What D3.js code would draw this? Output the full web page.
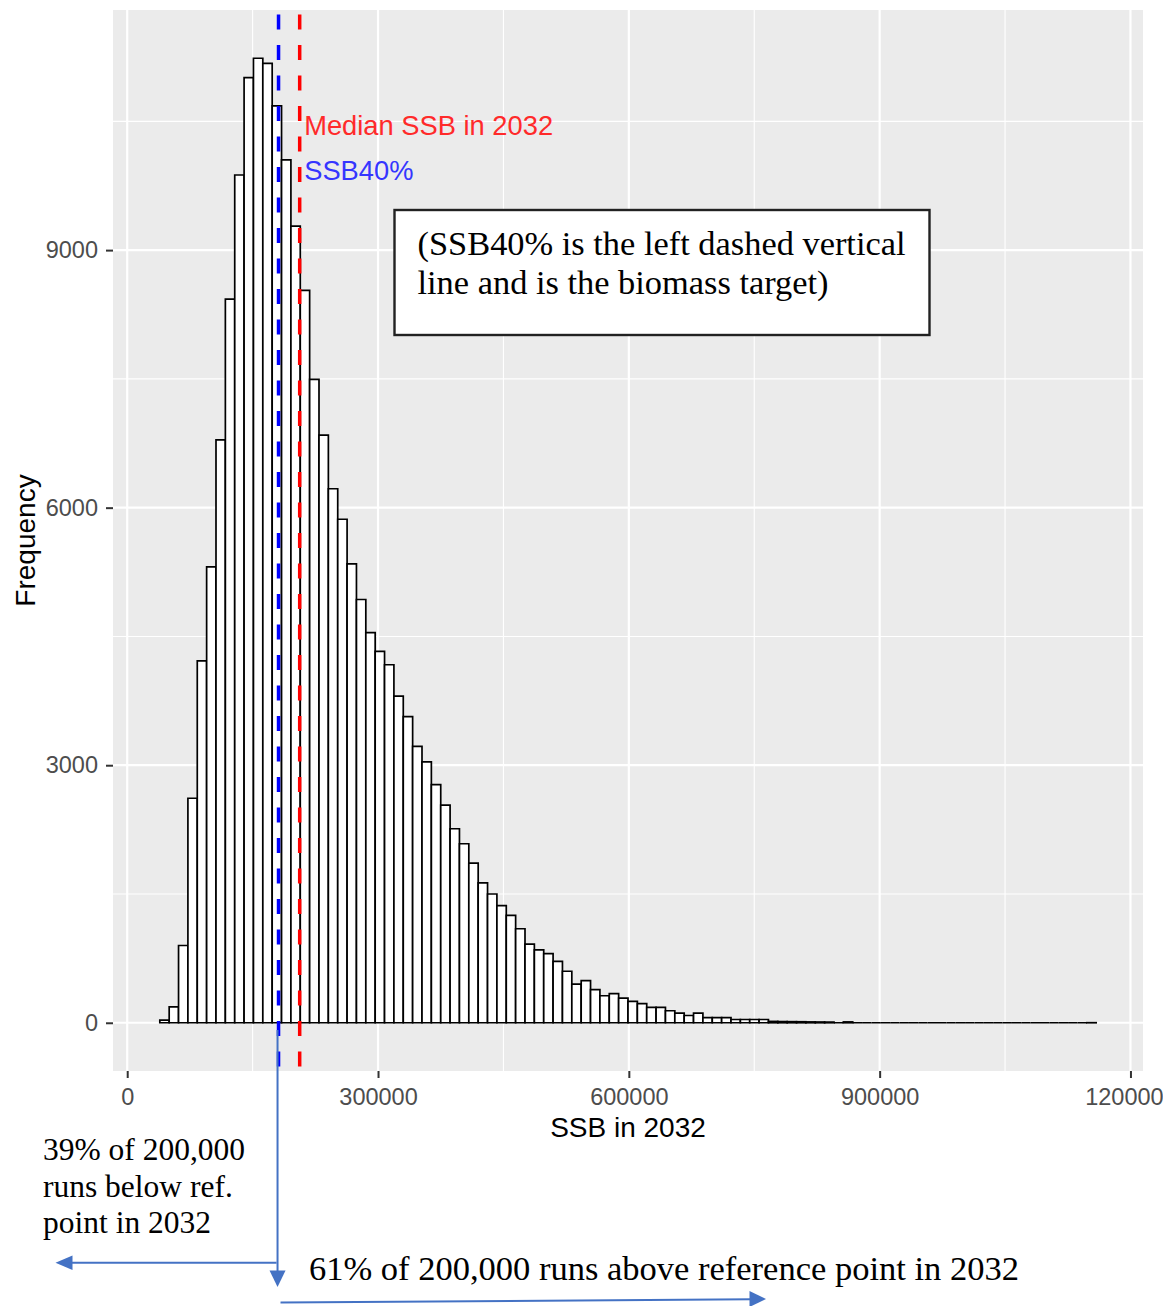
<!DOCTYPE html>
<html><head><meta charset="utf-8">
<script src="https://cdn.jsdelivr.net/npm/d3@7/dist/d3.min.js"></script>
<style>body{margin:0;background:#fff}</style>
</head><body>
<svg id="chart" width="1163" height="1306"></svg>
<script>
// ---- data ----
const binStart = 39000;     // left edge of first histogram bin (SSB units)
const binWidth = 11200;     // bin width (SSB units)
const counts = [
  30, 185, 900, 2615, 4215, 5310, 6790, 8430, 9875, 11010,
  11235, 11175, 10680, 10050, 9280, 8530, 7495, 6845, 6220, 5865,
  5345, 4930, 4545, 4325, 4170, 3805, 3565, 3220, 3040, 2775,
  2535, 2260, 2085, 1860, 1630, 1500, 1365, 1250, 1095, 915,
  850, 805, 715, 600, 450, 490, 385, 315, 340, 288,
  250, 222, 180, 180, 140, 113, 85, 113, 60, 60,
  60, 38, 38, 38, 38, 16, 14, 13, 12, 10,
  9, 8, 0, 10, 0, 0, 0, 0, 0, 0,
  0, 0, 0, 0, 0, 0, 0, 0, 0, 0,
  0, 0, 0, 0, 0, 0, 0, 0, 0, 1
];
const ssb40 = 181000;
const medianSSB = 206300;
const xTicks = [0, 300000, 600000, 900000, 1200000];
const xMinor = [150000, 450000, 750000, 1050000];
const yTicks = [0, 3000, 6000, 9000];
const yMinor = [1500, 4500, 7500, 10500];
const xTitle = "SSB in 2032";
const yTitle = "Frequency";
const medianLabel = "Median SSB in 2032";
const ssb40Label = "SSB40%";
const boxLines = ["(SSB40% is the left dashed vertical", "line and is the biomass target)"];
const belowLines = ["39% of 200,000", "runs below ref.", "point in 2032"];
const aboveText = "61% of 200,000 runs above reference point in 2032";

// ---- layout ----
const P = {left: 113, right: 1143, top: 10, bottom: 1071};
const sans = "'Liberation Sans', Arial, sans-serif";
const serif = "'Liberation Serif', 'Times New Roman', serif";
const arrowBlue = "#4472C4";

const bins = counts.map((n, i) => ({x0: binStart + i * binWidth, x1: binStart + (i + 1) * binWidth, n}));
const lo = binStart, hi = binStart + counts.length * binWidth;
const xpad = 0.05 * (hi - lo);
const x = d3.scaleLinear().domain([lo - xpad, hi + xpad]).range([P.left, P.right]);
const ymax = d3.max(counts);
const y = d3.scaleLinear().domain([-0.05 * ymax, 1.05 * ymax]).range([P.bottom, P.top]);

const svg = d3.select("#chart");

// panel
svg.append("rect").attr("x", P.left).attr("y", P.top)
  .attr("width", P.right - P.left).attr("height", P.bottom - P.top).attr("fill", "#EBEBEB");

const grid = svg.append("g");
grid.selectAll(".ymin").data(yMinor).join("line")
  .attr("x1", P.left).attr("x2", P.right).attr("y1", d => y(d)).attr("y2", d => y(d))
  .attr("stroke", "#fff").attr("stroke-width", 1.1);
grid.selectAll(".xmin").data(xMinor).join("line")
  .attr("y1", P.top).attr("y2", P.bottom).attr("x1", d => x(d)).attr("x2", d => x(d))
  .attr("stroke", "#fff").attr("stroke-width", 1.1);
grid.selectAll(".ymaj").data(yTicks).join("line")
  .attr("x1", P.left).attr("x2", P.right).attr("y1", d => y(d)).attr("y2", d => y(d))
  .attr("stroke", "#fff").attr("stroke-width", 2.2);
grid.selectAll(".xmaj").data(xTicks).join("line")
  .attr("y1", P.top).attr("y2", P.bottom).attr("x1", d => x(d)).attr("x2", d => x(d))
  .attr("stroke", "#fff").attr("stroke-width", 2.2);

// histogram bars (paths so zero-count bins still draw as a line)
svg.append("g").selectAll("path").data(bins).join("path")
  .attr("d", d => `M${x(d.x0)},${y(0)}V${y(d.n)}H${x(d.x1)}V${y(0)}Z`)
  .attr("fill", "#fff").attr("stroke", "#000").attr("stroke-width", 1.7);

// reference lines
const vlines = [{v: ssb40, c: "#0000FF"}, {v: medianSSB, c: "#FF0000"}];
svg.append("g").selectAll("line").data(vlines).join("line")
  .attr("x1", d => x(d.v)).attr("x2", d => x(d.v))
  .attr("y1", P.top).attr("y2", P.bottom)
  .attr("stroke", d => d.c).attr("stroke-width", 3.5)
  .attr("stroke-dasharray", "15,15.5").attr("stroke-dashoffset", 26);

svg.append("text").attr("x", x(medianSSB) + 4.5).attr("y", 134.5)
  .attr("font-family", sans).attr("font-size", 27.3).attr("fill", "#FF2A2A").text(medianLabel);
svg.append("text").attr("x", x(medianSSB) + 4.5).attr("y", 179.5)
  .attr("font-family", sans).attr("font-size", 27.3).attr("fill", "#3535FF").text(ssb40Label);

// axes
const yAxis = svg.append("g").attr("transform", `translate(${P.left},0)`)
  .call(d3.axisLeft(y).tickValues(yTicks).tickSize(7).tickPadding(8).tickFormat(d3.format("d")));
const xAxis = svg.append("g").attr("transform", `translate(0,${P.bottom})`)
  .call(d3.axisBottom(x).tickValues(xTicks).tickSize(7).tickPadding(10).tickFormat(d3.format("d")));
[yAxis, xAxis].forEach(g => {
  g.select(".domain").remove();
  g.selectAll(".tick line").attr("stroke", "#333").attr("stroke-width", 2);
  g.selectAll(".tick text").attr("fill", "#4D4D4D").attr("font-family", sans).attr("font-size", 23.5);
});

svg.append("text").attr("x", (P.left + P.right) / 2).attr("y", 1137)
  .attr("text-anchor", "middle").attr("font-family", sans).attr("font-size", 28).attr("fill", "#000").text(xTitle);
svg.append("text").attr("transform", `translate(35,${(P.top + P.bottom) / 2}) rotate(-90)`)
  .attr("text-anchor", "middle").attr("font-family", sans).attr("font-size", 28).attr("fill", "#000").text(yTitle);

// annotation box
svg.append("rect").attr("x", 394.5).attr("y", 210).attr("width", 535).attr("height", 125)
  .attr("fill", "#fff").attr("stroke", "#222").attr("stroke-width", 2.4);
svg.append("g").selectAll("text").data(boxLines).join("text")
  .attr("x", 417.5).attr("y", (d, i) => 255 + i * 39)
  .attr("font-family", serif).attr("font-size", 34.4).attr("fill", "#000").text(d => d);

// bottom annotations
svg.append("g").selectAll("text").data(belowLines).join("text")
  .attr("x", 43).attr("y", (d, i) => 1160 + i * 36.7)
  .attr("font-family", serif).attr("font-size", 31.5).attr("fill", "#000").text(d => d);
svg.append("text").attr("x", 309).attr("y", 1280)
  .attr("font-family", serif).attr("font-size", 34.5).attr("fill", "#000").text(aboveText);

// arrows
const ax = x(ssb40) - 1;
const ag = svg.append("g").attr("fill", arrowBlue).attr("stroke", arrowBlue);
ag.append("line").attr("x1", ax).attr("x2", ax).attr("y1", 1030).attr("y2", 1272).attr("stroke-width", 2);
ag.append("path").attr("d", `M${ax - 8},1270.5L${ax + 8},1270.5L${ax},1287Z`).attr("stroke", "none");
ag.append("line").attr("x1", ax - 1).attr("x2", 70).attr("y1", 1262.7).attr("y2", 1262.7).attr("stroke-width", 2);
ag.append("path").attr("d", `M72.5,1255.5L72.5,1270L55.5,1262.7Z`).attr("stroke", "none");
ag.append("line").attr("x1", ax + 3).attr("x2", 752).attr("y1", 1302.5).attr("y2", 1299.3).attr("stroke-width", 2);
ag.append("path").attr("d", `M749.5,1291L749.5,1307L766,1299Z`).attr("stroke", "none");
</script>
</body></html>
